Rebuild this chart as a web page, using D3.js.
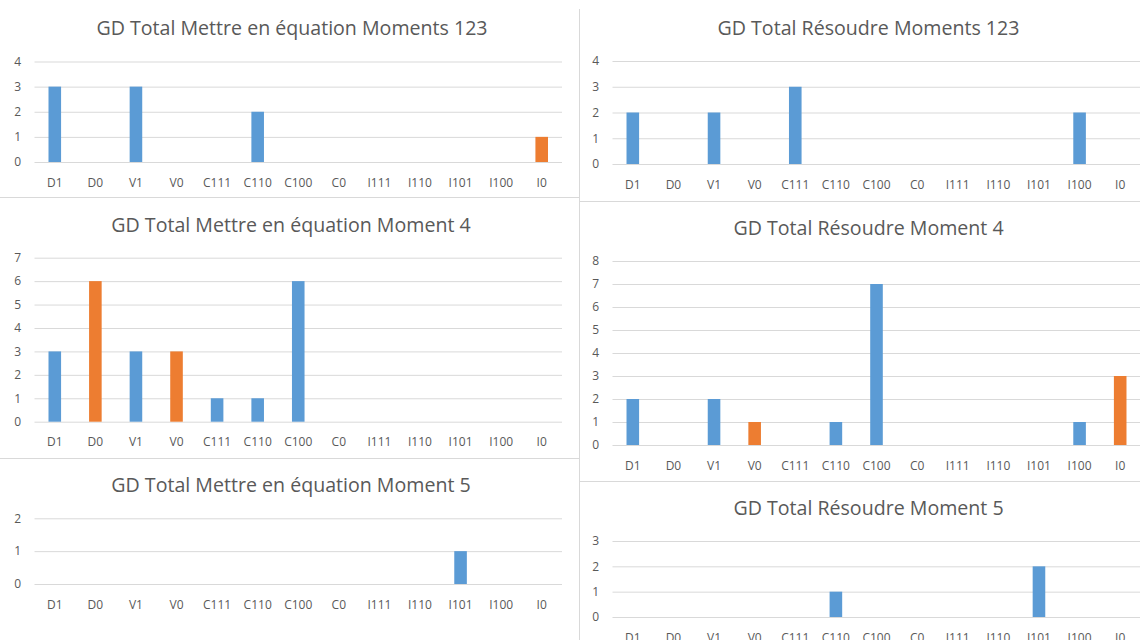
<!DOCTYPE html>
<html>
<head>
<meta charset="utf-8">
<script src="https://cdn.jsdelivr.net/npm/d3@7"></script>
<style>
  html, body { margin: 0; padding: 0; background: #ffffff; }
  svg { display: block; }
  text { font-family: "Open Sans", "Noto Sans", sans-serif; fill: #595959; }
</style>
</head>
<body>
<svg id="chart" width="1140" height="640"></svg>
<script>
// Categories of the coding grid (same for every chart)
const categories = ["D1", "D0", "V1", "V0", "C111", "C110", "C100", "C0", "I111", "I110", "I101", "I100", "I0"];
// Categories counted as "absent" answers (second series)
const absentCategories = ["D0", "V0", "C0", "I0"];

// Counts per category
const mettreMoments123 = [3, 0, 3, 0, 0, 2, 0, 0, 0, 0, 0, 0, 1];
const mettreMoment4    = [3, 6, 3, 3, 1, 1, 6, 0, 0, 0, 0, 0, 0];
const mettreMoment5    = [0, 0, 0, 0, 0, 0, 0, 0, 0, 0, 1, 0, 0];
const resoudreMoments123 = [2, 0, 2, 0, 3, 0, 0, 0, 0, 0, 0, 2, 0];
const resoudreMoment4    = [2, 0, 2, 1, 0, 1, 7, 0, 0, 0, 0, 1, 3];
const resoudreMoment5    = [0, 0, 0, 0, 0, 1, 0, 0, 0, 0, 2, 0, 0];

const titles = [
  "GD Total Mettre en équation Moments 123",
  "GD Total Mettre en équation Moment 4",
  "GD Total Mettre en équation Moment 5",
  "GD Total Résoudre Moments 123",
  "GD Total Résoudre Moment 4",
  "GD Total Résoudre Moment 5"
];
// Upper bound of each value axis
const axisMax = [4, 7, 2, 4, 8, 3];

const seriesValues = [mettreMoments123, mettreMoment4, mettreMoment5,
                      resoudreMoments123, resoudreMoment4, resoudreMoment5];

// ---- styling / layout ----
const BLUE = "#5B9BD5", ORANGE = "#ED7D31", GRID = "#D9D9D9", BORDER = "#D9D9D9";

const svg = d3.select("#chart");

// panel frames
const frame = svg.append("g").attr("stroke", BORDER).attr("stroke-width", 1).attr("fill", "none");
frame.append("line").attr("x1", 579.5).attr("x2", 579.5).attr("y1", 9).attr("y2", 640);
frame.append("line").attr("x1", 0).attr("x2", 579).attr("y1", 197.5).attr("y2", 197.5);
frame.append("line").attr("x1", 0).attr("x2", 579).attr("y1", 458.5).attr("y2", 458.5);
frame.append("line").attr("x1", 580).attr("x2", 1140).attr("y1", 201.5).attr("y2", 201.5);
frame.append("line").attr("x1", 580).attr("x2", 1140).attr("y1", 481.5).attr("y2", 481.5);

// plot geometry of each panel
const layouts = [
  { x0: 34.5,  x1: 562,    yTop: 61.5,  yBase: 162,   titleX: 292, titleY: 35 },
  { x0: 34.5,  x1: 562,    yTop: 257.7, yBase: 421.7, titleX: 291, titleY: 232 },
  { x0: 34.5,  x1: 562,    yTop: 518.3, yBase: 584,   titleX: 291, titleY: 492 },
  { x0: 612.5, x1: 1140.5, yTop: 61,    yBase: 164,   titleX: 868.5, titleY: 35 },
  { x0: 612.5, x1: 1140.5, yTop: 261,   yBase: 445,   titleX: 868.5, titleY: 235 },
  { x0: 612.5, x1: 1140.5, yTop: 541,   yBase: 617,   titleX: 868.5, titleY: 515 }
];

layouts.forEach((L, i) => {
  const values = seriesValues[i];
  const g = svg.append("g");

  const x = d3.scaleBand().domain(categories).range([L.x0, L.x1]).padding(0);
  const y = d3.scaleLinear().domain([0, axisMax[i]]).range([L.yBase, L.yTop]);
  const ticks = d3.range(0, axisMax[i] + 1);

  // horizontal gridlines
  const grid = g.append("g")
    .attr("transform", `translate(${L.x0},0)`)
    .call(d3.axisLeft(y).tickValues(ticks).tickSize(-(L.x1 - L.x0)).tickFormat(""));
  grid.select(".domain").remove();
  grid.selectAll("line").attr("stroke", GRID).attr("stroke-width", 1);

  // value labels
  const yAx = g.append("g")
    .attr("transform", `translate(${L.x0},0)`)
    .call(d3.axisLeft(y).tickValues(ticks).tickSize(0).tickPadding(13.5).tickFormat(d3.format("d")));
  yAx.select(".domain").remove();
  yAx.selectAll("text").attr("font-size", 12).attr("font-family", null).attr("fill", "#595959");

  // category labels
  const xAx = g.append("g")
    .attr("transform", `translate(0,${L.yBase})`)
    .call(d3.axisBottom(x).tickSize(0).tickPadding(16));
  xAx.select(".domain").remove();
  xAx.selectAll("text").attr("font-size", 12).attr("font-family", null).attr("fill", "#595959");

  // bars
  const barW = x.bandwidth() * 0.31;
  g.append("g").selectAll("rect")
    .data(categories.map((c, k) => ({ c, v: values[k] })).filter(d => d.v > 0))
    .join("rect")
    .attr("x", d => x(d.c) + (x.bandwidth() - barW) / 2)
    .attr("width", barW)
    .attr("y", d => y(d.v))
    .attr("height", d => y(0) - y(d.v))
    .attr("fill", d => absentCategories.includes(d.c) ? ORANGE : BLUE);

  // title
  g.append("text")
    .attr("x", L.titleX).attr("y", L.titleY)
    .attr("text-anchor", "middle")
    .attr("font-size", 19.6)
    .text(titles[i]);
});
</script>
</body>
</html>
